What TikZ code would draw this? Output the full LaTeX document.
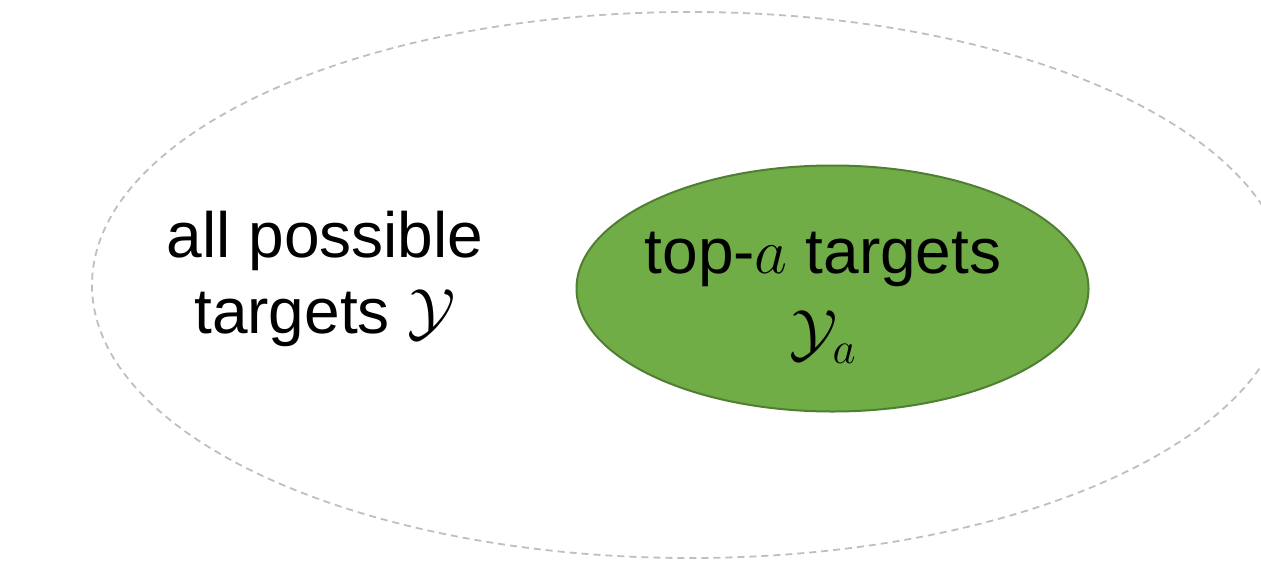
\RequirePackage{fix-cm}
\documentclass[tikz,border=0pt]{standalone}
\usepackage{fontspec}
\setmainfont{Liberation Sans}
\usetikzlibrary{shapes.geometric}
\definecolor{outergray}{HTML}{BFBFBF}
\definecolor{greenfill}{HTML}{70AD47}
\definecolor{greenline}{HTML}{507E32}
\tikzset{
  outerset/.style={ellipse, draw=outergray, line width=1.8pt, dash pattern=on 7pt off 5pt,
    minimum width=1196pt, minimum height=546pt, inner sep=0pt},
  topset/.style={ellipse, draw=greenline, fill=greenfill, line width=2pt,
    minimum width=512pt, minimum height=246pt, inner sep=0pt},
  lbl/.style={align=center, font=\fontsize{64}{76}\selectfont, inner sep=0pt},
  lblb/.style={align=center, font=\fontsize{64}{81}\selectfont, inner sep=0pt}
}
\begin{document}
\begin{tikzpicture}[x=1pt,y=-1pt]
\useasboundingbox (0,0) rectangle (1261,584);
\node[outerset] (all) at (690,285) {};
\node[topset] (top) at (832.5,288.5) {};
\node[lbl] (alltext) at (325,279) {all possible\\targets $\mathcal{Y}$};
\node[lblb] (toptext) at (823,298) {top-$a$ targets\\$\mathcal{Y}_a$};
\end{tikzpicture}
\end{document}
